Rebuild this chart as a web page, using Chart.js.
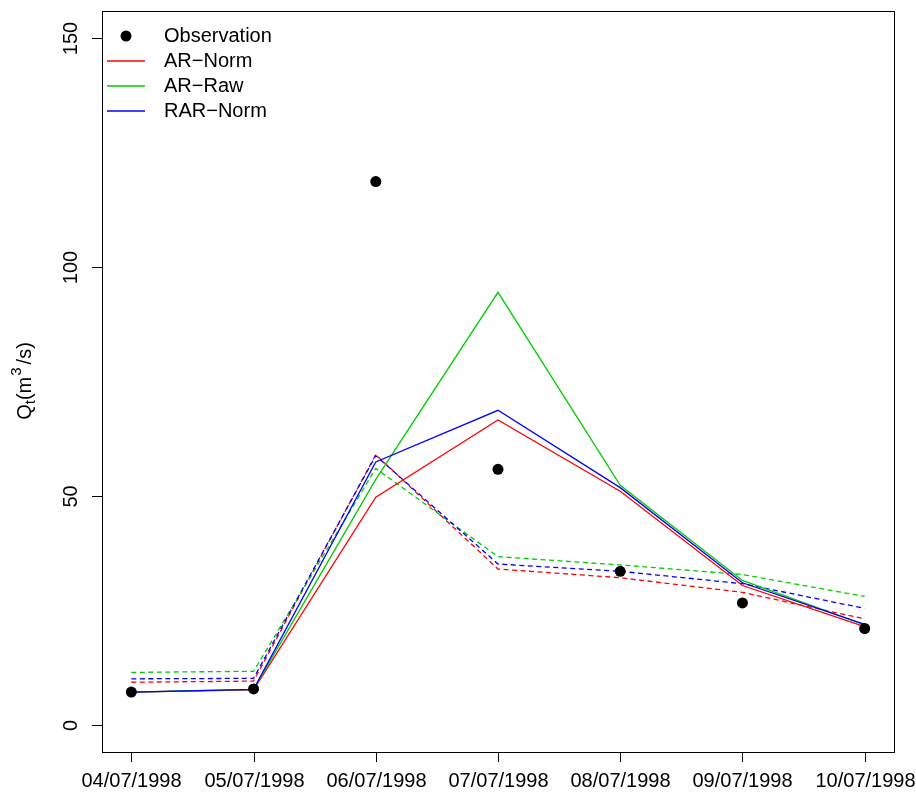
<!DOCTYPE html>
<html>
<head>
<meta charset="utf-8">
<script src="https://cdn.jsdelivr.net/npm/chart.js@4"></script>
<style>
  body { margin: 0; background: #fff; }
  #wrap { width: 916px; height: 793px; }
</style>
</head>
<body>
<div id="wrap"><canvas id="flowChart" width="916" height="793"></canvas></div>
<script>
const dates = ['04/07/1998', '05/07/1998', '06/07/1998', '07/07/1998', '08/07/1998', '09/07/1998', '10/07/1998'];
const yTicks = [0, 50, 100, 150];

const observation = [7.1, 7.8, 118.7, 55.8, 33.5, 26.6, 21.0];
const arNorm = [7.1, 7.6, 49.7, 66.6, 51.0, 30.4, 21.4];
const arRaw = [7.1, 7.7, 53.6, 94.5, 52.3, 31.5, 21.8];
const rarNorm = [7.1, 7.7, 57.4, 68.7, 51.8, 31.0, 21.9];
const arNormDash = [9.25, 9.5, 59.0, 34.0, 32.1, 28.9, 23.1];
const arRawDash = [11.4, 11.65, 56.0, 36.7, 34.9, 32.8, 28.0];
const rarNormDash = [10.0, 10.1, 58.8, 35.1, 33.5, 30.8, 25.4];

const RED = '#ff0000', GREEN = '#00cd00', BLUE = '#0000ff';
const FONT = '20px "Liberation Sans", Arial, sans-serif';

const toPts = arr => arr.map((v, i) => ({ x: i, y: v }));

function lineSet(label, values, color, dashed, order) {
  return {
    label,
    data: toPts(values),
    borderColor: color,
    borderWidth: 1.3,
    borderDash: dashed ? [5, 3.5] : [],
    pointRadius: 0,
    fill: false,
    tension: 0,
    order
  };
}

// axes, box, legend drawn R-style
const rAxes = {
  id: 'rAxes',
  afterDraw(chart) {
    const ctx = chart.ctx;
    const a = chart.chartArea;
    const xs = chart.scales.x, ys = chart.scales.y;
    ctx.save();
    ctx.strokeStyle = '#000';
    ctx.fillStyle = '#000';
    ctx.lineWidth = 1;
    ctx.strokeRect(a.left + 0.5, a.top + 0.5, a.right - a.left, a.bottom - a.top);

    ctx.font = FONT;
    ctx.textAlign = 'center';
    ctx.textBaseline = 'middle';
    dates.forEach((d, i) => {
      const px = Math.round(xs.getPixelForValue(i)) + 0.5;
      ctx.beginPath();
      ctx.moveTo(px, a.bottom);
      ctx.lineTo(px, a.bottom + 10);
      ctx.stroke();
      ctx.fillText(d, px, a.bottom + 29);
    });

    yTicks.forEach(t => {
      const py = Math.round(ys.getPixelForValue(t)) + 0.5;
      ctx.beginPath();
      ctx.moveTo(a.left, py);
      ctx.lineTo(a.left - 10, py);
      ctx.stroke();
      ctx.save();
      ctx.translate(a.left - 31, py);
      ctx.rotate(-Math.PI / 2);
      ctx.fillText(String(t), 0, 0);
      ctx.restore();
    });

    // y title Q_t(m^3/s)
    ctx.save();
    ctx.translate(31, 381);
    ctx.rotate(-Math.PI / 2);
    ctx.textBaseline = 'alphabetic';
    const small = '15px "Liberation Sans", Arial, sans-serif';
    const parts = [
      { t: 'Q', f: FONT, dy: 0, gap: 0 },
      { t: 't', f: small, dy: 4, gap: 0 },
      { t: '(m', f: FONT, dy: 0, gap: 1 },
      { t: '3', f: small, dy: -10, gap: 3 },
      { t: '/s)', f: FONT, dy: 0, gap: 0 }
    ];
    let total = 0;
    parts.forEach(p => { ctx.font = p.f; total += ctx.measureText(p.t).width + p.gap; });
    let x = -total / 2;
    ctx.textAlign = 'left';
    parts.forEach(p => {
      ctx.font = p.f;
      ctx.fillText(p.t, x, p.dy);
      x += ctx.measureText(p.t).width + p.gap;
    });
    ctx.restore();

    // legend
    const items = [
      { label: 'Observation', color: '#000', point: true },
      { label: 'AR\u2212Norm', color: RED },
      { label: 'AR\u2212Raw', color: GREEN },
      { label: 'RAR\u2212Norm', color: BLUE }
    ];
    ctx.font = FONT;
    ctx.textAlign = 'left';
    items.forEach((it, k) => {
      const yy = 36 + k * 25;
      if (it.point) {
        ctx.beginPath();
        ctx.arc(126, yy, 5.5, 0, Math.PI * 2);
        ctx.fill();
      } else {
        ctx.strokeStyle = it.color;
        ctx.lineWidth = 1.3;
        ctx.beginPath();
        ctx.moveTo(107, yy);
        ctx.lineTo(145, yy);
        ctx.stroke();
      }
      ctx.fillStyle = '#000';
      ctx.fillText(it.label, 164, yy);
    });
    ctx.restore();
  }
};

new Chart(document.getElementById('flowChart'), {
  type: 'line',
  data: {
    datasets: [
      {
        label: 'Observation',
        data: toPts(observation),
        showLine: false,
        pointRadius: 5.5,
        pointBackgroundColor: '#000',
        pointBorderColor: '#000',
        pointBorderWidth: 0,
        order: 0
      },
      lineSet('AR-Norm', arNorm, RED, false, 3),
      lineSet('AR-Raw', arRaw, GREEN, false, 2),
      lineSet('RAR-Norm', rarNorm, BLUE, false, 1),
      lineSet('AR-Norm dashed', arNormDash, RED, true, 6),
      lineSet('AR-Raw dashed', arRawDash, GREEN, true, 5),
      lineSet('RAR-Norm dashed', rarNormDash, BLUE, true, 4)
    ]
  },
  options: {
    responsive: false,
    animation: false,
    layout: { padding: { left: 102, top: 11, right: 22, bottom: 41 } },
    plugins: { legend: { display: false }, tooltip: { enabled: false } },
    scales: {
      x: { type: 'linear', min: -0.24, max: 6.24, display: false },
      y: { type: 'linear', min: -6, max: 156, display: false }
    }
  },
  plugins: [rAxes]
});
</script>
</body>
</html>
